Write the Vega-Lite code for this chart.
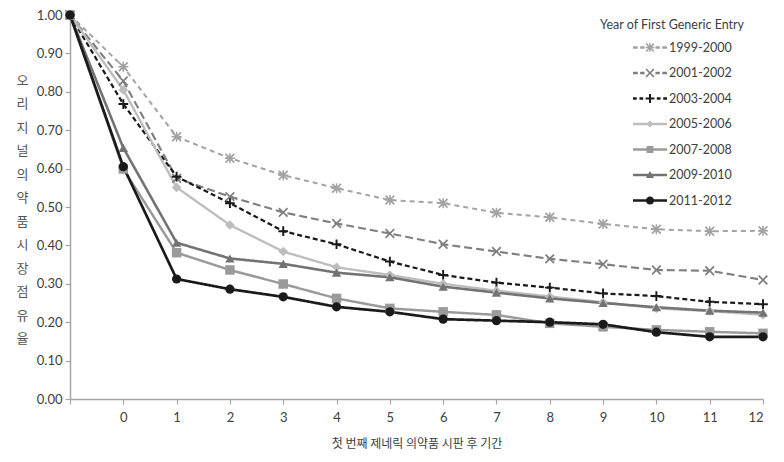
{
  "$schema": "https://vega.github.io/schema/vega-lite/v6.json",
  "width": 693,
  "height": 384,
  "autosize": {"type": "none"},
  "padding": {"left": 70, "top": 15, "right": 21, "bottom": 63},
  "background": "white",
  "config": {"view": {"stroke": null}},
  "data": {"values": [
    {"t": -1, "g": "1999-2000", "v": 1.0}, {"t": 0, "g": "1999-2000", "v": 0.865}, {"t": 1, "g": "1999-2000", "v": 0.683}, {"t": 2, "g": "1999-2000", "v": 0.627}, {"t": 3, "g": "1999-2000", "v": 0.583}, {"t": 4, "g": "1999-2000", "v": 0.549}, {"t": 5, "g": "1999-2000", "v": 0.518}, {"t": 6, "g": "1999-2000", "v": 0.51}, {"t": 7, "g": "1999-2000", "v": 0.485}, {"t": 8, "g": "1999-2000", "v": 0.473}, {"t": 9, "g": "1999-2000", "v": 0.456}, {"t": 10, "g": "1999-2000", "v": 0.442}, {"t": 11, "g": "1999-2000", "v": 0.437}, {"t": 12, "g": "1999-2000", "v": 0.438},
    {"t": -1, "g": "2001-2002", "v": 1.0}, {"t": 0, "g": "2001-2002", "v": 0.828}, {"t": 1, "g": "2001-2002", "v": 0.575}, {"t": 2, "g": "2001-2002", "v": 0.527}, {"t": 3, "g": "2001-2002", "v": 0.486}, {"t": 4, "g": "2001-2002", "v": 0.457}, {"t": 5, "g": "2001-2002", "v": 0.431}, {"t": 6, "g": "2001-2002", "v": 0.403}, {"t": 7, "g": "2001-2002", "v": 0.384}, {"t": 8, "g": "2001-2002", "v": 0.365}, {"t": 9, "g": "2001-2002", "v": 0.351}, {"t": 10, "g": "2001-2002", "v": 0.336}, {"t": 11, "g": "2001-2002", "v": 0.334}, {"t": 12, "g": "2001-2002", "v": 0.31},
    {"t": -1, "g": "2003-2004", "v": 1.0}, {"t": 0, "g": "2003-2004", "v": 0.768}, {"t": 1, "g": "2003-2004", "v": 0.579}, {"t": 2, "g": "2003-2004", "v": 0.51}, {"t": 3, "g": "2003-2004", "v": 0.437}, {"t": 4, "g": "2003-2004", "v": 0.403}, {"t": 5, "g": "2003-2004", "v": 0.358}, {"t": 6, "g": "2003-2004", "v": 0.323}, {"t": 7, "g": "2003-2004", "v": 0.303}, {"t": 8, "g": "2003-2004", "v": 0.29}, {"t": 9, "g": "2003-2004", "v": 0.275}, {"t": 10, "g": "2003-2004", "v": 0.268}, {"t": 11, "g": "2003-2004", "v": 0.253}, {"t": 12, "g": "2003-2004", "v": 0.247},
    {"t": -1, "g": "2005-2006", "v": 1.0}, {"t": 0, "g": "2005-2006", "v": 0.805}, {"t": 1, "g": "2005-2006", "v": 0.551}, {"t": 2, "g": "2005-2006", "v": 0.453}, {"t": 3, "g": "2005-2006", "v": 0.384}, {"t": 4, "g": "2005-2006", "v": 0.343}, {"t": 5, "g": "2005-2006", "v": 0.323}, {"t": 6, "g": "2005-2006", "v": 0.3}, {"t": 7, "g": "2005-2006", "v": 0.282}, {"t": 8, "g": "2005-2006", "v": 0.267}, {"t": 9, "g": "2005-2006", "v": 0.252}, {"t": 10, "g": "2005-2006", "v": 0.236}, {"t": 11, "g": "2005-2006", "v": 0.229}, {"t": 12, "g": "2005-2006", "v": 0.219},
    {"t": -1, "g": "2007-2008", "v": 1.0}, {"t": 0, "g": "2007-2008", "v": 0.599}, {"t": 1, "g": "2007-2008", "v": 0.381}, {"t": 2, "g": "2007-2008", "v": 0.336}, {"t": 3, "g": "2007-2008", "v": 0.2995}, {"t": 4, "g": "2007-2008", "v": 0.262}, {"t": 5, "g": "2007-2008", "v": 0.236}, {"t": 6, "g": "2007-2008", "v": 0.227}, {"t": 7, "g": "2007-2008", "v": 0.219}, {"t": 8, "g": "2007-2008", "v": 0.197}, {"t": 9, "g": "2007-2008", "v": 0.188}, {"t": 10, "g": "2007-2008", "v": 0.18}, {"t": 11, "g": "2007-2008", "v": 0.175}, {"t": 12, "g": "2007-2008", "v": 0.171},
    {"t": -1, "g": "2009-2010", "v": 1.0}, {"t": 0, "g": "2009-2010", "v": 0.654}, {"t": 1, "g": "2009-2010", "v": 0.407}, {"t": 2, "g": "2009-2010", "v": 0.366}, {"t": 3, "g": "2009-2010", "v": 0.352}, {"t": 4, "g": "2009-2010", "v": 0.329}, {"t": 5, "g": "2009-2010", "v": 0.317}, {"t": 6, "g": "2009-2010", "v": 0.2925}, {"t": 7, "g": "2009-2010", "v": 0.277}, {"t": 8, "g": "2009-2010", "v": 0.262}, {"t": 9, "g": "2009-2010", "v": 0.25}, {"t": 10, "g": "2009-2010", "v": 0.239}, {"t": 11, "g": "2009-2010", "v": 0.23}, {"t": 12, "g": "2009-2010", "v": 0.225},
    {"t": -1, "g": "2011-2012", "v": 1.0}, {"t": 0, "g": "2011-2012", "v": 0.605}, {"t": 1, "g": "2011-2012", "v": 0.3125}, {"t": 2, "g": "2011-2012", "v": 0.286}, {"t": 3, "g": "2011-2012", "v": 0.266}, {"t": 4, "g": "2011-2012", "v": 0.24}, {"t": 5, "g": "2011-2012", "v": 0.227}, {"t": 6, "g": "2011-2012", "v": 0.208}, {"t": 7, "g": "2011-2012", "v": 0.204}, {"t": 8, "g": "2011-2012", "v": 0.2}, {"t": 9, "g": "2011-2012", "v": 0.1945}, {"t": 10, "g": "2011-2012", "v": 0.174}, {"t": 11, "g": "2011-2012", "v": 0.162}, {"t": 12, "g": "2011-2012", "v": 0.162}
  ]},
  "encoding": {
    "x": {
      "field": "t", "type": "quantitative",
      "scale": {"domain": [-1, 12], "nice": false, "zero": false},
      "axis": {
        "values": [-1, 0, 1, 2, 3, 4, 5, 6, 7, 8, 9, 10, 11, 12],
        "labelExpr": "datum.value == -1 ? '' : datum.label",
        "grid": false, "domainColor": "#a6a6a6", "domainWidth": 1.5,
        "tickColor": "#a6a6a6", "tickSize": 5, "tickWidth": 1.2,
        "labelFont": "Lato", "labelFontSize": 13, "labelColor": "#404040", "labelPadding": 7,
        "title": "첫 번째 제네릭 의약품 시판 후 기간",
        "titleFont": "Noto Sans CJK KR", "titleFontSize": 12, "titleFontWeight": "normal",
        "titleColor": "#404040", "titlePadding": 14
      }
    },
    "y": {
      "field": "v", "type": "quantitative",
      "scale": {"domain": [0, 1], "nice": false},
      "axis": {
        "values": [0, 0.1, 0.2, 0.3, 0.4, 0.5, 0.6, 0.7, 0.8, 0.9, 1.0],
        "format": ".2f",
        "grid": false, "domainColor": "#a6a6a6", "domainWidth": 1.5,
        "tickColor": "#a6a6a6", "tickSize": 5, "tickWidth": 1.2,
        "labelFont": "Lato", "labelFontSize": 13, "labelColor": "#404040", "labelPadding": 3,
        "title": ["오", "리", "지", "널", "의", "약", "품", "시", "장", "점", "유", "율"],
        "titleAngle": 0, "titleX": -48, "titleY": 65,
        "titleAlign": "center", "titleBaseline": "middle",
        "titleLineHeight": 23.5,
        "titleFont": "Noto Sans CJK KR", "titleFontSize": 13, "titleFontWeight": "normal",
        "titleColor": "#555555"
      }
    }
  },
  "layer": [
    {
      "mark": {"type": "line"},
      "encoding": {
        "color": {
          "field": "g", "type": "nominal",
          "scale": {
            "domain": ["1999-2000", "2001-2002", "2003-2004", "2005-2006", "2007-2008", "2009-2010", "2011-2012"],
            "range": ["#a3a3a3", "#7f7f7f", "#1a1a1a", "#bdbdbd", "#9a9a9a", "#737373", "#1a1a1a"]
          },
          "legend": {
            "orient": "none", "legendX": 530, "legendY": 4,
            "title": "Year of First Generic Entry",
            "titleFont": "Lato", "titleFontSize": 12.5, "titleFontWeight": "normal", "titleColor": "#404040",
            "titlePadding": 8,
            "labelFont": "Lato", "labelFontSize": 12.5, "labelColor": "#404040",
            "symbolSize": 1156, "symbolOffset": 33, "labelOffset": 2,
            "clipHeight": 16, "rowPadding": 9.5,
            "encode": {
              "symbols": {
                "update": {
                  "shape": {"signal": "datum.value == '1999-2000' ? 'M-1,-0.07L-0.72,-0.07L-0.72,0.07L-1,0.07ZM-0.58,-0.07L-0.32,-0.07L-0.32,0.07L-0.58,0.07ZM0.32,-0.07L0.58,-0.07L0.58,0.07L0.32,0.07ZM0.72,-0.07L1,-0.07L1,0.07L0.72,0.07ZM-0.13,-0.13L0.13,-0.13L0.13,0.13L-0.13,0.13ZM-0.26,-0.195L-0.195,-0.26L0,-0.065L0.195,-0.26L0.26,-0.195L0.065,0L0.26,0.195L0.195,0.26L0,0.065L-0.195,0.26L-0.26,0.195L-0.065,0ZM-0.26,-0.04L-0.04,-0.04L-0.04,-0.26L0.04,-0.26L0.04,-0.04L0.26,-0.04L0.26,0.04L0.04,0.04L0.04,0.26L-0.04,0.26L-0.04,0.04L-0.26,0.04Z' : datum.value == '2001-2002' ? 'M-1,-0.08L-0.72,-0.08L-0.72,0.08L-1,0.08ZM-0.58,-0.08L-0.32,-0.08L-0.32,0.08L-0.58,0.08ZM0.32,-0.08L0.58,-0.08L0.58,0.08L0.32,0.08ZM0.72,-0.08L1,-0.08L1,0.08L0.72,0.08ZM-0.26,-0.195L-0.195,-0.26L0,-0.065L0.195,-0.26L0.26,-0.195L0.065,0L0.26,0.195L0.195,0.26L0,0.065L-0.195,0.26L-0.26,0.195L-0.065,0Z' : datum.value == '2003-2004' ? 'M-1,-0.08L-0.78,-0.08L-0.78,0.08L-1,0.08ZM-0.62,-0.08L-0.4,-0.08L-0.4,0.08L-0.62,0.08ZM0.4,-0.08L0.62,-0.08L0.62,0.08L0.4,0.08ZM0.78,-0.08L1,-0.08L1,0.08L0.78,0.08ZM-0.26,-0.06L-0.06,-0.06L-0.06,-0.26L0.06,-0.26L0.06,-0.06L0.26,-0.06L0.26,0.06L0.06,0.06L0.06,0.26L-0.06,0.26L-0.06,0.06L-0.26,0.06Z' : datum.value == '2005-2006' ? 'M-1,-0.075L1,-0.075L1,0.075L-1,0.075ZM0,-0.2L0.2,0L0,0.2L-0.2,0Z' : datum.value == '2007-2008' ? 'M-1,-0.075L1,-0.075L1,0.075L-1,0.075ZM-0.2,-0.2L0.2,-0.2L0.2,0.2L-0.2,0.2Z' : datum.value == '2009-2010' ? 'M-1,-0.075L1,-0.075L1,0.075L-1,0.075ZM0,-0.24L0.24,0.18L-0.24,0.18Z' : 'M-1,-0.07L1,-0.07L1,0.07L-1,0.07ZM-0.24,0A0.24,0.24,0,1,1,0.24,0A0.24,0.24,0,1,1,-0.24,0Z'"},
                  "fill": {"signal": "scale('color', datum.value)"},
                  "strokeWidth": {"value": 0},
                  "size": {"value": 1156},
                  "opacity": {"value": 1}
                }
              }
            }
          }
        },
        "strokeDash": {
          "field": "g", "type": "nominal",
          "scale": {
            "range": [[5, 4], [8, 4], [5, 3], [1, 0], [1, 0], [1, 0], [1, 0]]
          },
          "legend": null
        },
        "strokeWidth": {
          "field": "g", "type": "ordinal",
          "scale": {
            "range": [2, 2.7, 2.2, 2.8, 2.6, 2.6, 2.2]
          },
          "legend": null
        }
      }
    },
    {
      "mark": {"type": "point", "filled": true, "opacity": 1, "strokeWidth": 0},
      "encoding": {
        "fill": {
          "field": "g", "type": "nominal",
          "scale": {
            "range": ["#a3a3a3", "#7f7f7f", "#1a1a1a", "#bdbdbd", "#9a9a9a", "#737373", "#1a1a1a"]
          },
          "legend": null
        },
        "size": {
          "field": "g", "type": "ordinal",
          "scale": {
            "range": [100, 85, 80, 50, 55, 70, 60]
          },
          "legend": null
        },
        "shape": {
          "field": "g", "type": "nominal",
          "scale": {
            "range": [
              "M-0.5,-0.5L0.5,-0.5L0.5,0.5L-0.5,0.5ZM-1,-0.75L-0.75,-1L0,-0.25L0.75,-1L1,-0.75L0.25,0L1,0.75L0.75,1L0,0.25L-0.75,1L-1,0.75L-0.25,0ZM-1,-0.15L-0.15,-0.15L-0.15,-1L0.15,-1L0.15,-0.15L1,-0.15L1,0.15L0.15,0.15L0.15,1L-0.15,1L-0.15,0.15L-1,0.15Z",
              "M-1,-0.75L-0.75,-1L0,-0.25L0.75,-1L1,-0.75L0.25,0L1,0.75L0.75,1L0,0.25L-0.75,1L-1,0.75L-0.25,0Z",
              "M-1,-0.2L-0.2,-0.2L-0.2,-1L0.2,-1L0.2,-0.2L1,-0.2L1,0.2L0.2,0.2L0.2,1L-0.2,1L-0.2,0.2L-1,0.2Z",
              "diamond",
              "square",
              "triangle-up",
              "circle"
            ]
          },
          "legend": null
        }
      }
    }
  ]
}
